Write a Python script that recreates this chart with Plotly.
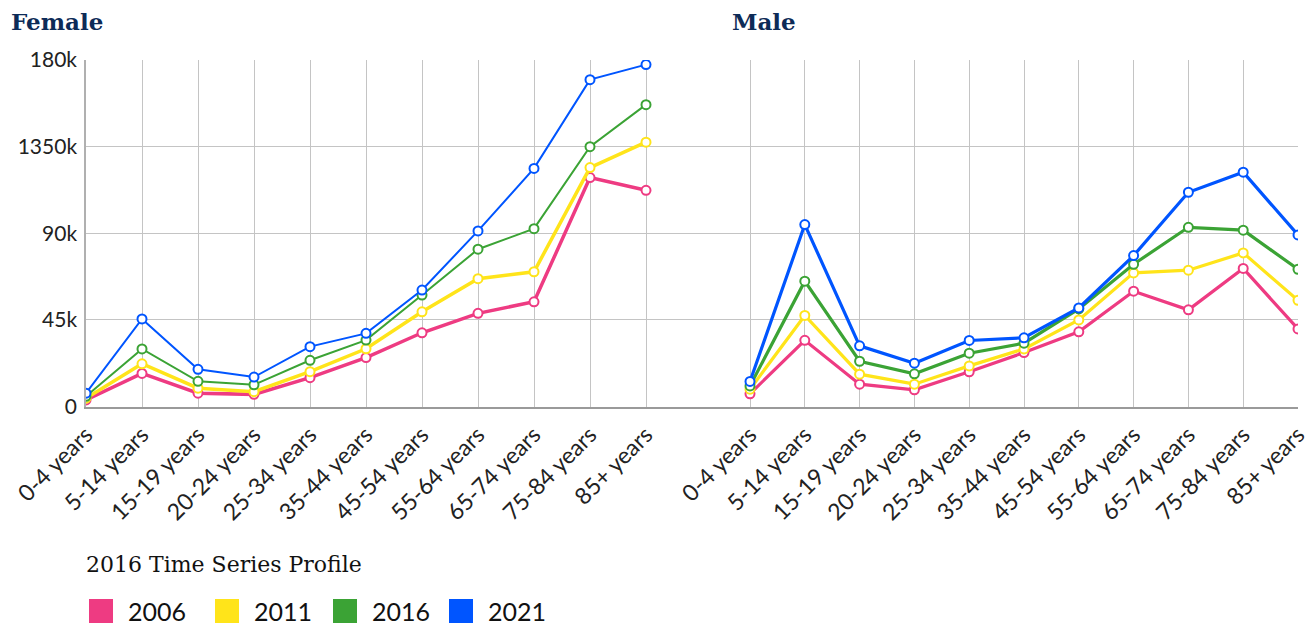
import plotly.graph_objects as go

# ---------------- data ----------------
age_groups = ["0-4 years", "5-14 years", "15-19 years", "20-24 years", "25-34 years",
              "35-44 years", "45-54 years", "55-64 years", "65-74 years", "75-84 years", "85+ years"]
years = ["2006", "2011", "2016", "2021"]
colors = ["#EE3B82", "#FFE41A", "#3BA335", "#0055FF"]

female_2006 = [3400, 17200, 6900, 6300, 15000, 25400, 38300, 48400, 54400, 118900, 112300]
female_2011 = [4300, 22200, 9500, 7700, 18100, 30000, 49200, 66400, 70000, 124100, 137300]
female_2016 = [5300, 29900, 13100, 11300, 24000, 34500, 57900, 81700, 92400, 135000, 156800]
female_2021 = [6900, 45500, 19300, 15300, 31100, 38000, 60500, 91200, 123700, 169800, 177600]

male_2006 = [6600, 34400, 11600, 8700, 18000, 28000, 38800, 59900, 50200, 71700, 40300]
male_2011 = [9000, 47300, 16800, 11600, 21100, 29900, 45000, 69400, 70800, 79800, 55200]
male_2016 = [10700, 65100, 23500, 17000, 27700, 32900, 50700, 73900, 93100, 91600, 71300]
male_2021 = [13000, 94500, 31500, 22500, 34300, 35700, 51200, 78400, 111300, 121700, 89100]

female = [female_2006, female_2011, female_2016, female_2021]
male = [male_2006, male_2011, male_2016, male_2021]

y_tickvals = [0, 45000, 90000, 135000, 180000]
y_ticktext = ["0", "45k", "90k", "1350k", "180k"]

panel_titles = ["Female", "Male"]
legend_title = "2016 Time Series Profile"

# ---------------- layout helpers ----------------
W, H = 1316, 625
OFF = 8  # page body margin
def px(x):
    return (x - OFF) / W
def py(y):
    return 1 - (y - OFF) / H

female_widths = [3.5, 3.5, 2, 2]
male_widths = [3.2, 3.2, 3.2, 3.2]

fig = go.Figure()
xs = list(range(len(age_groups)))
for i, yr in enumerate(years):
    fig.add_trace(go.Scatter(
        x=xs, y=female[i], mode="lines+markers", name=yr, xaxis="x", yaxis="y",
        line=dict(color=colors[i], width=female_widths[i]),
        marker=dict(symbol="circle", size=9, color="white", line=dict(color=colors[i], width=2)),
        showlegend=False))
for i, yr in enumerate(years):
    fig.add_trace(go.Scatter(
        x=xs, y=male[i], mode="lines+markers", name=yr, xaxis="x2", yaxis="y2",
        line=dict(color=colors[i], width=male_widths[i]),
        marker=dict(symbol="circle", size=9, color="white", line=dict(color=colors[i], width=2)),
        showlegend=False))

ytick_font = dict(family="Lato, sans-serif", size=21, color="#222222")
xtick_font = dict(family="Lato, sans-serif", size=23, color="#222222")
grid = "#c4c4c4"

common_x = dict(tickmode="array", tickvals=xs, ticktext=age_groups, tickangle=-45,
                tickfont=xtick_font, showgrid=True, gridcolor=grid, gridwidth=1,
                zeroline=False, showline=True, linecolor="#9a9a9a", linewidth=1.5,
                ticks="", ticklabelstandoff=4, fixedrange=True, automargin=False)

fig.update_layout(
    width=W, height=H,
    margin=dict(l=0, r=0, t=0, b=0, autoexpand=False),
    paper_bgcolor="white", plot_bgcolor="white",
    showlegend=False,
    xaxis=dict(domain=[px(86), px(698)], range=[0, (698 - 86) / 56.0], anchor="y", **common_x),
    xaxis2=dict(domain=[px(698), px(1298)], range=[-(750 - 698) / 54.8, 10], anchor="y2", **common_x),
    yaxis=dict(domain=[py(406.5), py(60)], range=[0, 180000], anchor="x",
               tickmode="array", tickvals=y_tickvals, ticktext=y_ticktext,
               tickfont=ytick_font, showgrid=True, gridcolor=grid, gridwidth=1,
               zeroline=False, showline=True, linecolor="#b0b0b0", linewidth=1.5,
               ticks="", ticklabelstandoff=3, fixedrange=True, automargin=False),
    yaxis2=dict(domain=[py(406.5), py(60)], range=[0, 180000], anchor="x2",
                tickmode="array", tickvals=y_tickvals, showticklabels=False,
                showgrid=True, gridcolor=grid, gridwidth=1,
                zeroline=False, showline=False, ticks="", fixedrange=True, automargin=False),
)

annotations = []
title_font = dict(family="DejaVu Serif, serif", size=23, color="#0d2b57")
for title, xpos in zip(panel_titles, [9, 730]):
    annotations.append(dict(text="<b>%s</b>" % title, x=px(xpos), y=py(21), xref="paper", yref="paper",
                            xanchor="left", yanchor="middle", showarrow=False, font=title_font))
annotations.append(dict(text=legend_title, x=px(84), y=py(564), xref="paper", yref="paper",
                        xanchor="left", yanchor="middle", showarrow=False,
                        font=dict(family="DejaVu Serif, serif", size=22, color="#111111")))

shapes = []
sq_x = [89, 215, 333, 449]
for i, yr in enumerate(years):
    x0 = sq_x[i]
    shapes.append(dict(type="rect", xref="paper", yref="paper",
                       x0=px(x0), x1=px(x0 + 24), y0=py(623), y1=py(599),
                       fillcolor=colors[i], line=dict(width=0)))
    annotations.append(dict(text=yr, x=px(x0 + 37), y=py(611), xref="paper", yref="paper",
                            xanchor="left", yanchor="middle", showarrow=False,
                            font=dict(family="Lato, sans-serif", size=25, color="#111111")))

fig.update_layout(annotations=annotations, shapes=shapes)
fig.write_html("out.html")
